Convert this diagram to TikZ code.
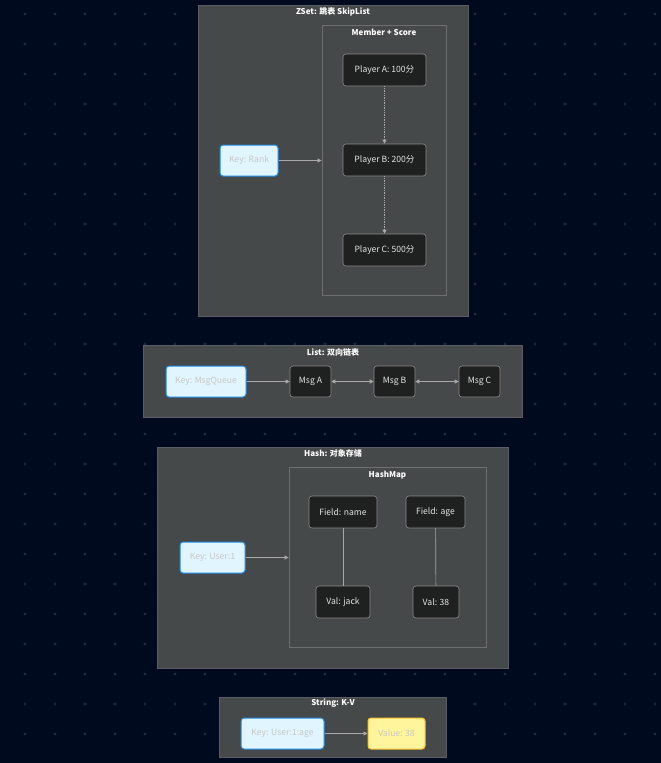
\documentclass[tikz,border=0pt]{standalone}
\usepackage{fontspec}
\setmainfont{Noto Sans CJK SC}
\usetikzlibrary{arrows.meta, positioning}

\definecolor{bgnavy}{HTML}{000A1F}
\definecolor{griddot}{HTML}{222838}
\definecolor{clusterfill}{HTML}{464949}
\definecolor{clusterline}{HTML}{5A5D66}
\definecolor{innerline}{HTML}{6E7070}
\definecolor{itemfill}{HTML}{1F2020}
\definecolor{itemline}{HTML}{8A8A8A}
\definecolor{keyfill}{HTML}{E1F5FE}
\definecolor{keyline}{HTML}{1E88E5}
\definecolor{valfill}{HTML}{FFF59D}
\definecolor{valline}{HTML}{FBC02D}
\definecolor{linkgray}{HTML}{A8A8A8}

\tikzset{
    every node/.style={font=\fontsize{8.6}{10}\selectfont, inner sep=0pt},
    cluster/.style={draw=clusterline, fill=clusterfill, line width=0.8pt},
    innercluster/.style={draw=innerline, fill=clusterfill, line width=0.8pt},
    title/.style={text=white, font=\fontsize{8}{9}\selectfont\bfseries},
    item/.style={draw=itemline, fill=itemfill, rounded corners=3pt, text=white!90!black, line width=0.6pt, minimum height=32},
    keybox/.style={draw=keyline, fill=keyfill, rounded corners=3pt, text=black!22, line width=1pt, minimum height=31},
    valbox/.style={draw=valline, fill=valfill, rounded corners=3pt, text=black!22, line width=1pt, minimum height=31},
    link/.style={draw=linkgray, line width=0.7pt, -{Triangle[length=4pt, width=4pt]}},
    biglink/.style={draw=linkgray, line width=0.7pt, {Triangle[length=4pt, width=4pt]}-{Triangle[length=4pt, width=4pt]}}
}

\begin{document}
\begin{tikzpicture}[x=1pt, y=-1pt]
    % background and dot grid
    \fill[bgnavy] (0,0) rectangle (661,763);
    \useasboundingbox (0,0) rectangle (661,763);
    \foreach \gx in {25,55,...,655}
        \foreach \gy in {14,44,...,760}
            \fill[griddot] (\gx,\gy) circle (1.7);

    % ZSet
    \node[cluster, minimum width=270, minimum height=311] (zset) at (333,160.5) {};
    \node[title] (zsettitle) at (333,12) {ZSet: 跳表 SkipList};
    \node[innercluster, minimum width=124, minimum height=270] (member) at (384,160) {};
    \node[title] (membertitle) at (384,32) {Member + Score};
    \node[item, minimum width=83] (pa) at (384.5,70) {Player A: 100分};
    \node[item, minimum width=83] (pb) at (384.5,160) {Player B: 200分};
    \node[item, minimum width=83] (pc) at (384.5,250) {Player C: 500分};
    \node[keybox, minimum width=58] (rank) at (249,160.5) {Key: Rank};
    \draw[link] (rank.east) -- (member.west |- rank.east);
    \draw[link, densely dotted] (pa) -- (pb);
    \draw[link, densely dotted] (pb) -- (pc);

    % List
    \node[cluster, minimum width=379, minimum height=72] (list) at (332.5,381) {};
    \node[title] (listtitle) at (333,352) {List: 双向链表};
    \node[keybox, minimum width=80] (queue) at (206,381.5) {Key: MsgQueue};
    \node[item, minimum width=41, minimum height=31] (ma) at (310.5,381.5) {Msg A};
    \node[item, minimum width=41, minimum height=31] (mb) at (394.5,381.5) {Msg B};
    \node[item, minimum width=41, minimum height=31] (mc) at (479.5,381.5) {Msg C};
    \draw[link] (queue) -- (ma);
    \draw[biglink] (ma) -- (mb);
    \draw[biglink] (mb) -- (mc);

    % Hash
    \node[cluster, minimum width=351, minimum height=221] (hash) at (332.5,557.5) {};
    \node[title] (hashtitle) at (333,453) {Hash: 对象存储};
    \node[innercluster, minimum width=197, minimum height=180] (hashmap) at (387.5,557) {};
    \node[title] (hashmaptitle) at (387.5,475) {HashMap};
    \node[item, minimum width=68] (fname) at (343,512) {Field: name};
    \node[item, minimum width=59] (fage) at (435.5,512) {Field: age};
    \node[item, minimum width=54] (vjack) at (343,602) {Val: jack};
    \node[item, minimum width=46] (vage) at (436,602) {Val: 38};
    \node[keybox, minimum width=65] (user) at (212.5,557.5) {Key: User:1};
    \draw[link] (user.east) -- (hashmap.west |- user.east);
    \draw[linkgray, line width=0.7pt] (fname) -- (vjack);
    \draw[linkgray, line width=0.7pt] (fage) -- (vage);

    % String
    \node[cluster, minimum width=227, minimum height=60] (string) at (332.5,727) {};
    \node[title] (stringtitle) at (333,703) {String: K-V};
    \node[keybox, minimum width=83] (userage) at (282.5,733.5) {Key: User:1:age};
    \node[valbox, minimum width=57] (value) at (396.5,733.5) {Value: 38};
    \draw[link] (userage) -- (value);
\end{tikzpicture}
\end{document}
